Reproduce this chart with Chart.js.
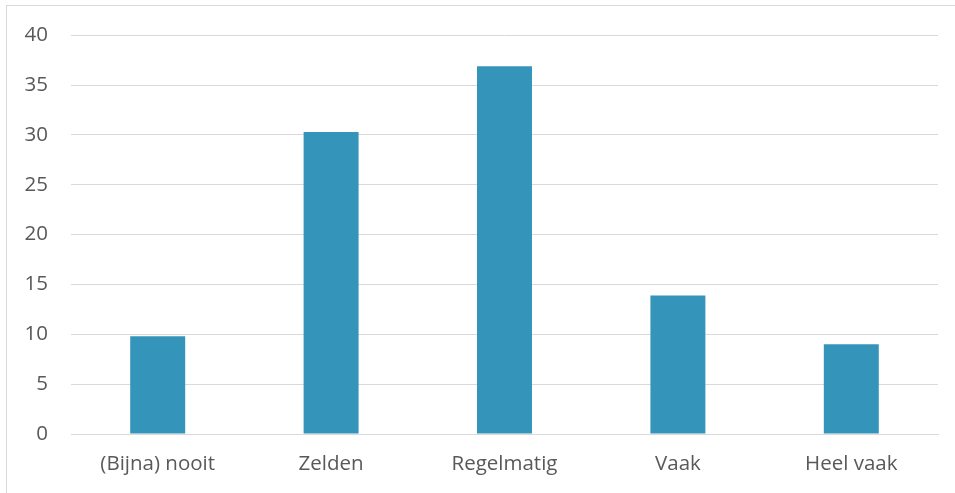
<!DOCTYPE html>
<html>
<head>
<meta charset="utf-8">
<script src="https://cdn.jsdelivr.net/npm/chart.js@4"></script>
<style>
  html, body { margin: 0; padding: 0; background: #fff; overflow: hidden; }
  #wrap { position: relative; width: 955px; height: 493px; }
  #frame { position: absolute; left: 6px; top: 5px; width: 1000px; height: 600px; border: 1px solid #d9d9d9; box-sizing: border-box; }
  canvas { position: absolute; left: 0; top: 0; }
</style>
</head>
<body>
<div id="wrap">
  <div id="frame"></div>
  <canvas id="chart" width="955" height="493"></canvas>
</div>
<script>
// categorieën en waarden
const categories = ['(Bijna) nooit', 'Zelden', 'Regelmatig', 'Vaak', 'Heel vaak'];
const values = [9.8, 30.3, 36.9, 13.9, 9.0];
const yTicks = [0, 5, 10, 15, 20, 25, 30, 35, 40];

const ctx = document.getElementById('chart').getContext('2d');
new Chart(ctx, {
    type: 'bar',
    data: {
        labels: categories,
        datasets: [{
            data: values,
            backgroundColor: '#3494ba',
            borderWidth: 0,
            barPercentage: 0.317,
            categoryPercentage: 1
        }]
    },
    options: {
        responsive: false,
        animation: false,
        layout: { padding: { top: 34, right: 17, left: 0, bottom: 0 } },
        plugins: { legend: { display: false }, tooltip: { enabled: false } },
        scales: {
            x: {
                grid: { display: false, drawTicks: false },
                border: { display: true, color: '#d9d9d9', width: 1 },
                ticks: { color: '#595959', font: { family: 'Open Sans', size: 20.5 }, padding: 18, maxRotation: 0 },
                afterFit: (scale) => { scale.height = 59; }
            },
            y: {
                min: 0,
                max: 40,
                afterBuildTicks: (scale) => { scale.ticks = yTicks.map(v => ({ value: v })); },
                grid: { color: '#d9d9d9', lineWidth: 1, drawTicks: false },
                border: { display: false },
                ticks: { color: '#595959', font: { family: 'Open Sans', size: 20.5 }, padding: 23 },
                afterFit: (scale) => { scale.width = 71; }
            }
        }
    }
});
</script>
</body>
</html>
